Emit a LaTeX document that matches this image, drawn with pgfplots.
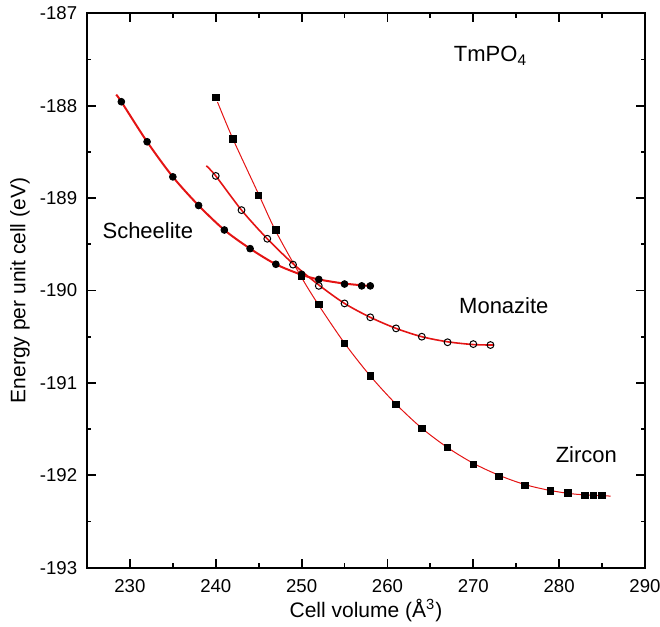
\documentclass[border=0pt]{standalone}
\usepackage{fontspec}
\setmainfont{Liberation Sans}
\usepackage{pgfplots}
\pgfplotsset{compat=1.18}
\definecolor{fitred}{RGB}{228,20,20}
\begin{document}
\begin{tikzpicture}
\begin{axis}[
  scale only axis, width=279pt, height=277.2pt,
  xmin=225, xmax=290, ymin=-193, ymax=-187,
  xtick={230,240,...,290}, minor xtick={225,235,...,285},
  ytick={-193,-192,...,-187}, minor ytick={-192.5,-191.5,...,-187.5},
  tick align=inside,
  major tick length=4.5pt, minor tick length=2.2pt,
  axis line style={line width=1pt},
  every tick/.style={black, line width=0.9pt},
  /pgf/number format/assume math mode=true,
  /pgf/number format/1000 sep={},
  tick label style={font=\fontsize{9.3}{11}\selectfont},
  yticklabel style={xshift=-1.4pt},
  xticklabel style={yshift=-2.6pt},
  xlabel={Cell volume (Å\textsuperscript{3})},
  ylabel={Energy per unit cell (eV)},
  label style={font=\fontsize{10.5}{12}\selectfont},
  xlabel style={at={(axis description cs:0.5,0)}, anchor=base, yshift=-25.1pt},
  ylabel style={at={(axis description cs:-0.1201,0.5)}, anchor=center, rotate=0},
  clip=false,
]
% Scheelite data
\addplot[only marks, mark=*, mark size=1.7pt, black] coordinates {
 (229,-187.957) (232,-188.39) (235,-188.77) (238,-189.08) (241,-189.345)
 (244,-189.547) (247,-189.716) (250,-189.825) (252,-189.88) (255,-189.93)
 (257,-189.95) (258,-189.95)};
% Monazite data
\addplot[only marks, mark=o, mark size=1.7pt, black, mark options={line width=0.5pt}] coordinates {
 (240,-188.76) (243,-189.13) (246,-189.44) (249,-189.72) (252,-189.95)
 (255,-190.14) (258,-190.29) (261,-190.41) (264,-190.50) (267,-190.56)
 (270,-190.58) (272,-190.59)};
% Zircon data
\addplot[only marks, mark=square*, mark size=1.6pt, black] coordinates {
 (240,-187.91) (242,-188.36) (245,-188.97) (247,-189.345) (250,-189.85)
 (252,-190.15) (255,-190.57) (258,-190.925) (261,-191.23) (264,-191.49)
 (267,-191.70) (270,-191.88) (273,-192.01) (276,-192.11) (279,-192.17)
 (281,-192.19) (283,-192.22) (284,-192.22) (285,-192.22)};
% Fitted curves
\addplot[fitred, line width=1pt, smooth, tension=0.5, mark=none] coordinates {
 (228.4,-187.88) (229,-187.957) (232,-188.39) (235,-188.77) (238,-189.08) (241,-189.345)
 (244,-189.547) (247,-189.716) (250,-189.83) (252,-189.88) (255,-189.925)
 (258.4,-189.955)};
\addplot[fitred, line width=0.8pt, smooth, tension=0.5, mark=none] coordinates {
 (238.9,-188.65) (240,-188.76) (243,-189.13) (246,-189.44) (249,-189.71) (252,-189.94)
 (255,-190.14) (258,-190.29) (261,-190.41) (264,-190.50) (267,-190.555)
 (270,-190.585) (272.3,-190.59)};
\addplot[fitred, line width=0.5pt, smooth, tension=0.5, mark=none] coordinates {
 (240.2,-187.96) (242,-188.36) (245,-188.96) (247,-189.36) (250,-189.86)
 (252,-190.16) (255,-190.57) (258,-190.925) (261,-191.23) (264,-191.49)
 (267,-191.70) (270,-191.87) (273,-192.0) (276,-192.1) (279,-192.165)
 (282,-192.205) (286,-192.225)};
\node[anchor=base west, inner sep=0pt, font=\fontsize{11}{13}\selectfont] at (axis cs:267.7,-187.524) {TmPO\textsubscript{4}};
\node[anchor=base west, inner sep=0pt, font=\fontsize{11}{13}\selectfont] at (axis cs:226.77,-189.432) {Scheelite};
\node[anchor=base west, inner sep=0pt, font=\fontsize{11}{13}\selectfont] at (axis cs:268.31,-190.247) {Monazite};
\node[anchor=base west, inner sep=0pt, font=\fontsize{11}{13}\selectfont] at (axis cs:279.56,-191.859) {Zircon};
\end{axis}
\pgfresetboundingbox
\path ([shift={(-43.5pt,-29.65pt)}]current axis.south west) rectangle ++(330pt,313.5pt);
\end{tikzpicture}
\end{document}
